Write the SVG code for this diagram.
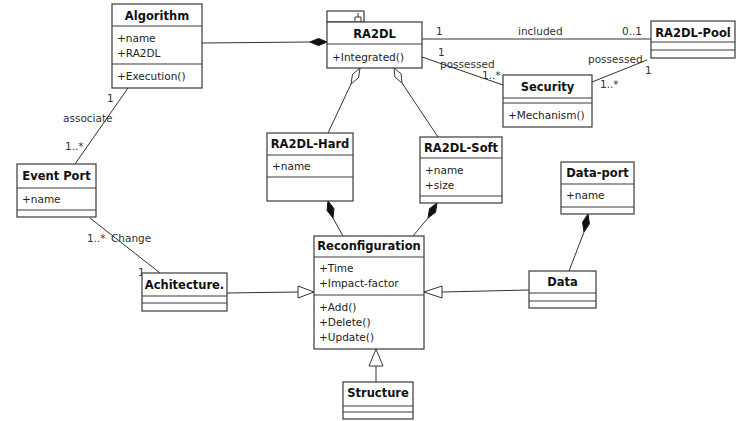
<svg xmlns="http://www.w3.org/2000/svg" width="736" height="421" viewBox="0 0 736 421">
<style>
.box{fill:#fff;stroke:#3a3a3a;stroke-width:1.2}
.sep{stroke:#3a3a3a;stroke-width:1.2}
.t{font-family:"DejaVu Sans",Verdana,sans-serif;font-size:11.5px;font-weight:bold;fill:#111;text-anchor:middle}
.a{font-family:"DejaVu Sans",Verdana,sans-serif;font-size:10.5px;fill:#222}
.l{font-family:"DejaVu Sans",Verdana,sans-serif;font-size:10.5px;fill:#333}
.c{stroke:#333;stroke-width:1;fill:none}
.fd{fill:#111;stroke:#111;stroke-width:1}
.hd{fill:#fff;stroke:#333;stroke-width:1}
</style>
<rect width="736" height="421" fill="#fff"/>
<g id="connectors">
<line class="c" x1="202" y1="43" x2="310" y2="42"/>
<polygon class="fd" points="310,42 318.5,38.5 327,42 318.5,45.5"/>
<line class="c" x1="422" y1="39" x2="651" y2="39"/>
<line class="c" x1="422" y1="57" x2="503" y2="85"/>
<line class="c" x1="592" y1="82" x2="647" y2="60"/>
<line class="c" x1="128" y1="88" x2="75" y2="164"/>
<line class="c" x1="90" y1="218" x2="160" y2="273"/>
<line class="c" x1="227" y1="293" x2="298" y2="292"/>
<polygon class="hd" points="298,286 314,292 298,298"/>
<line class="c" x1="529" y1="290" x2="442" y2="292"/>
<polygon class="hd" points="442,286 424,292 442,298"/>
<line class="c" x1="376" y1="382" x2="376" y2="366"/>
<polygon class="hd" points="369,366 376,349 383,366"/>
<polygon class="hd" points="360,68 358.5,77.7 351,84 352.5,74.3"/>
<line class="c" x1="351" y1="84" x2="328" y2="133"/>
<polygon class="hd" points="394,68 401.1,73.9 402,83 394.9,77.1"/>
<line class="c" x1="402" y1="83" x2="438" y2="137"/>
<polygon class="fd" points="328,201 333.9,208.5 333,218 327.1,210.5"/>
<line class="c" x1="333" y1="218" x2="343" y2="236"/>
<polygon class="fd" points="437,203 435.5,212.3 428,218 429.5,208.7"/>
<line class="c" x1="428" y1="218" x2="413" y2="236"/>
<polygon class="fd" points="588,214 589.4,223.8 584,232 582.6,222.2"/>
<line class="c" x1="584" y1="232" x2="569" y2="271"/>
<text class="l" x="436" y="35">1</text>
<text class="l" x="518" y="35">included</text>
<text class="l" x="622" y="35">0..1</text>
<text class="l" x="438" y="56">1</text>
<text class="l" x="440" y="68">possessed</text>
<text class="l" x="482" y="79">1..*</text>
<text class="l" x="588" y="63">possessed</text>
<text class="l" x="645" y="74">1</text>
<text class="l" x="600" y="88">1..*</text>
<text class="l" x="107" y="102">1</text>
<text class="l" x="63" y="122">associate</text>
<text class="l" x="65" y="150">1..*</text>
<text class="l" x="87" y="242">1..*</text>
<text class="l" x="111" y="242">Change</text>
<text class="l" x="138" y="276">1</text>
</g>
<g id="algorithm">
<rect class="box" x="112" y="4" width="90" height="84"/>
<line class="sep" x1="112" y1="26" x2="202" y2="26"/>
<line class="sep" x1="112" y1="64" x2="202" y2="64"/>
<text class="t" x="157" y="20">Algorithm</text>
<text class="a" x="117" y="42">+name</text>
<text class="a" x="117" y="57">+RA2DL</text>
<text class="a" x="117" y="80">+Execution()</text>
</g>
<g id="ra2dl">
<rect class="box" x="327" y="11" width="37" height="11"/>
<path class="c" d="M358,13 V17 M355,21 V17 H361 V21"/>
<rect class="box" x="327" y="22" width="95" height="46"/>
<line class="sep" x1="327" y1="44" x2="422" y2="44"/>
<text class="t" x="374.5" y="38">RA2DL</text>
<text class="a" x="332" y="61">+Integrated()</text>
</g>
<g id="ra2dl-pool">
<rect class="box" x="651" y="21" width="84" height="37"/>
<line class="sep" x1="651" y1="42" x2="735" y2="42"/>
<line class="sep" x1="651" y1="50" x2="735" y2="50"/>
<text class="t" x="693" y="37">RA2DL-Pool</text>
</g>
<g id="security">
<rect class="box" x="503" y="75" width="89" height="52"/>
<line class="sep" x1="503" y1="98" x2="592" y2="98"/>
<line class="sep" x1="503" y1="103" x2="592" y2="103"/>
<text class="t" x="547.5" y="91">Security</text>
<text class="a" x="508" y="119">+Mechanism()</text>
</g>
<g id="event-port">
<rect class="box" x="17" y="164" width="79" height="53"/>
<line class="sep" x1="17" y1="188" x2="96" y2="188"/>
<line class="sep" x1="17" y1="210" x2="96" y2="210"/>
<text class="t" x="56.5" y="180">Event Port</text>
<text class="a" x="22" y="203">+name</text>
</g>
<g id="achitecture">
<rect class="box" x="142" y="273" width="85" height="38"/>
<line class="sep" x1="142" y1="296" x2="227" y2="296"/>
<line class="sep" x1="142" y1="303" x2="227" y2="303"/>
<text class="t" x="184.5" y="289">Achitecture.</text>
</g>
<g id="ra2dl-hard">
<rect class="box" x="267" y="133" width="86" height="68"/>
<line class="sep" x1="267" y1="155" x2="353" y2="155"/>
<line class="sep" x1="267" y1="177" x2="353" y2="177"/>
<text class="t" x="310" y="148">RA2DL-Hard</text>
<text class="a" x="272" y="170">+name</text>
</g>
<g id="ra2dl-soft">
<rect class="box" x="420" y="137" width="82" height="66"/>
<line class="sep" x1="420" y1="158" x2="502" y2="158"/>
<line class="sep" x1="420" y1="196" x2="502" y2="196"/>
<text class="t" x="461" y="152">RA2DL-Soft</text>
<text class="a" x="425" y="174">+name</text>
<text class="a" x="425" y="189">+size</text>
</g>
<g id="reconfiguration">
<rect class="box" x="314" y="236" width="110" height="113"/>
<line class="sep" x1="314" y1="257" x2="424" y2="257"/>
<line class="sep" x1="314" y1="295" x2="424" y2="295"/>
<text class="t" x="369" y="250">Reconfiguration</text>
<text class="a" x="319" y="272">+Time</text>
<text class="a" x="319" y="287">+Impact-factor</text>
<text class="a" x="319" y="311">+Add()</text>
<text class="a" x="319" y="326">+Delete()</text>
<text class="a" x="319" y="341">+Update()</text>
</g>
<g id="data-port">
<rect class="box" x="561" y="162" width="73" height="52"/>
<line class="sep" x1="561" y1="184" x2="634" y2="184"/>
<line class="sep" x1="561" y1="207" x2="634" y2="207"/>
<text class="t" x="597.5" y="177">Data-port</text>
<text class="a" x="566" y="199">+name</text>
</g>
<g id="data">
<rect class="box" x="529" y="271" width="67" height="37"/>
<line class="sep" x1="529" y1="293" x2="596" y2="293"/>
<line class="sep" x1="529" y1="301" x2="596" y2="301"/>
<text class="t" x="562.5" y="286">Data</text>
</g>
<g id="structure">
<rect class="box" x="343" y="382" width="70" height="37"/>
<line class="sep" x1="343" y1="406" x2="413" y2="406"/>
<line class="sep" x1="343" y1="412" x2="413" y2="412"/>
<text class="t" x="378" y="397">Structure</text>
</g>
</svg>
